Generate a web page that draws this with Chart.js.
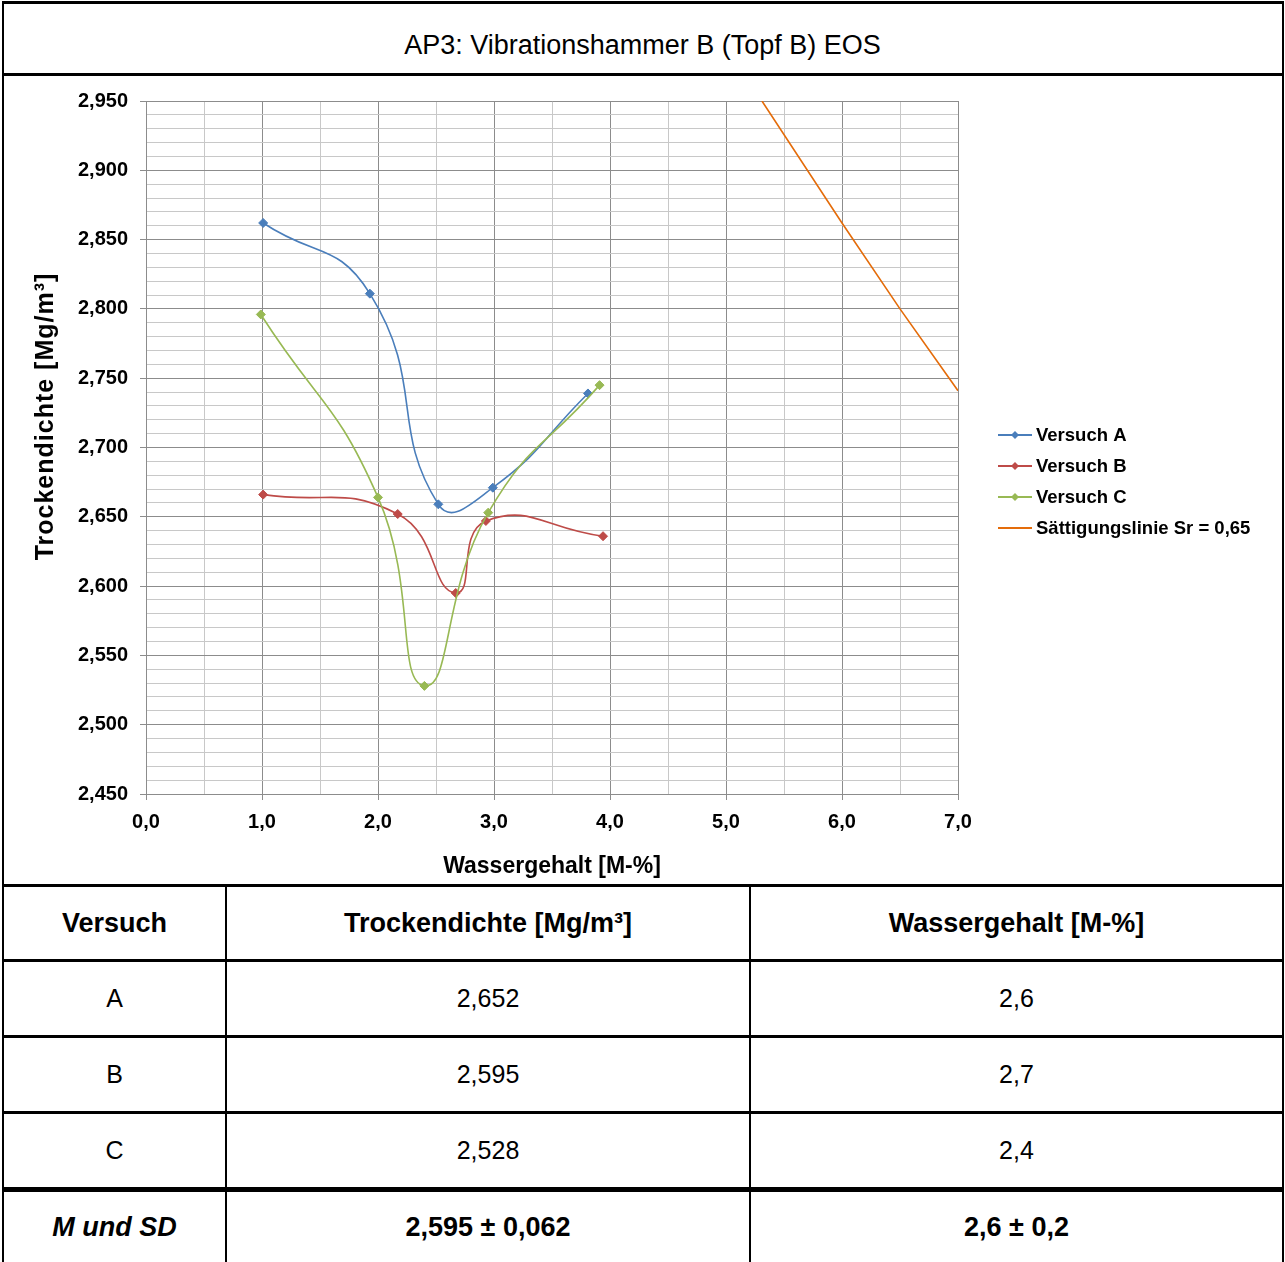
<!DOCTYPE html>
<html>
<head>
<meta charset="utf-8">
<script src="https://cdn.jsdelivr.net/npm/chart.js@4.4.1/dist/chart.umd.min.js"></script>
<style>
  body { margin: 0; background: #fff; font-family: "Liberation Sans", Arial, sans-serif; color: #000; }
  #page { position: relative; width: 1285px; height: 1262px; overflow: hidden; }
  .hl, .vl { position: absolute; background: #000; }
  .cell { position: absolute; display: flex; align-items: center; justify-content: center; font-size: 25px; }
  .b { font-weight: bold; font-size: 27px; }
  .bi { font-weight: bold; font-style: italic; font-size: 27px; }
  #title { position: absolute; left: 0; top: 10px; width: 1285px; height: 70px; display: flex; align-items: center; justify-content: center; font-size: 27px; }
  #chart { position: absolute; left: 0; top: 77px; }
</style>
</head>
<body>
<div id="page">
  <div id="title">AP3: Vibrationshammer B (Topf B) EOS</div>
  <canvas id="chart" width="1285" height="806"></canvas>
  <div id="table"></div>
  <!-- frame lines -->
  <div class="hl" style="left:2px;top:1px;width:1282px;height:3px"></div>
  <div class="hl" style="left:2px;top:73px;width:1282px;height:3px"></div>
  <div class="hl" style="left:2px;top:884px;width:1282px;height:3px"></div>
  <div class="hl" style="left:2px;top:959px;width:1282px;height:3px"></div>
  <div class="hl" style="left:2px;top:1035px;width:1282px;height:3px"></div>
  <div class="hl" style="left:2px;top:1111px;width:1282px;height:3px"></div>
  <div class="hl" style="left:2px;top:1187px;width:1282px;height:5px"></div>
  <div class="vl" style="left:2px;top:1px;width:2px;height:1262px"></div>
  <div class="vl" style="left:1282px;top:1px;width:2px;height:1262px"></div>
  <div class="vl" style="left:225px;top:884px;width:2px;height:380px"></div>
  <div class="vl" style="left:749px;top:884px;width:2px;height:380px"></div>
</div>
<script>
// Versuch A
const aX = [1.01, 1.93, 2.52, 2.99, 3.81];
const aY = [2.862, 2.811, 2.659, 2.671, 2.739];
// Versuch B
const bX = [1.01, 2.17, 2.67, 2.93, 3.94];
const bY = [2.666, 2.652, 2.595, 2.647, 2.636];
// Versuch C
const cX = [0.99, 2.00, 2.40, 2.95, 3.91];
const cY = [2.796, 2.664, 2.528, 2.653, 2.745];
// Sättigungslinie Sr = 0,65
const sX = [5.31, 6.0, 6.5, 7.0];
const sY = [2.950, 2.862, 2.800, 2.741];

const seriesNames = ["Versuch A", "Versuch B", "Versuch C", "Sättigungslinie Sr = 0,65"];
const seriesColors = ["#4a7ebb", "#be4b48", "#98b954", "#e46c0a"];

const xTitle = "Wassergehalt [M-%]";
const yTitle = "Trockendichte [Mg/m³]";

// table below the chart
const tableHead = ["Versuch", "Trockendichte [Mg/m³]", "Wassergehalt [M-%]"];
const tableRows = [
  ["A", "2,652", "2,6"],
  ["B", "2,595", "2,7"],
  ["C", "2,528", "2,4"],
];
const tableSummary = ["M und SD", "2,595 ± 0,062", "2,6 ± 0,2"];

const X_MIN = 0, X_MAX = 7, Y_MIN = 2.45, Y_MAX = 2.95;
const DARK = "#8c8c8c", LIGHT = "#c8c8c8";
const FONT = '"Liberation Sans", Arial, sans-serif';

// ---- table ----
const colLeft = [4, 227, 751];
const colRight = [225, 749, 1282];
const rowTop = [887, 962, 1038, 1114, 1192];
const rowBottom = [959, 1035, 1111, 1187, 1262];
const tbl = document.getElementById("table");
function cell(text, r, c, cls) {
  const d = document.createElement("div");
  d.className = "cell " + (cls || "");
  d.style.left = colLeft[c] + "px";
  d.style.width = (colRight[c] - colLeft[c]) + "px";
  d.style.top = rowTop[r] + "px";
  d.style.height = (rowBottom[r] - rowTop[r]) + "px";
  d.textContent = text;
  tbl.appendChild(d);
}
tableHead.forEach((t, c) => cell(t, 0, c, "b"));
tableRows.forEach((row, r) => row.forEach((t, c) => cell(t, r + 1, c)));
tableSummary.forEach((t, c) => cell(t, 4, c, c === 0 ? "bi" : "b"));

// ---- chart ----
const toPts = (xs, ys) => xs.map((x, i) => ({ x, y: ys[i] }));
const fmt = (v, d) => v.toFixed(d).replace(".", ",");
const isMajorY = (v) => Math.round(v * 100) % 5 === 0;
const isMajorX = (v) => Math.abs(v - Math.round(v)) < 1e-6;

function series(i, xs, ys, markers) {
  return {
    label: seriesNames[i],
    data: toPts(xs, ys),
    borderColor: seriesColors[i],
    backgroundColor: seriesColors[i],
    borderWidth: 1.6,
    showLine: true,
    tension: markers ? 0.5 : 0,
    pointStyle: "rectRot",
    pointRadius: markers ? 4.5 : 0,
    pointBorderWidth: 1,
    order: 4 - i,
  };
}

// legend on the right, drawn from the dataset list
const sideLegend = {
  id: "sideLegend",
  afterDraw(chart) {
    const ctx = chart.ctx;
    const x0 = chart.chartArea.right + 40;
    ctx.save();
    chart.data.datasets.forEach((ds, i) => {
      const y = 358 + i * 31;
      ctx.strokeStyle = ds.borderColor;
      ctx.lineWidth = 2;
      ctx.beginPath();
      ctx.moveTo(x0, y);
      ctx.lineTo(x0 + 34, y);
      ctx.stroke();
      if (ds.pointRadius > 0) {
        ctx.fillStyle = ds.borderColor;
        ctx.beginPath();
        ctx.moveTo(x0 + 17, y - 4);
        ctx.lineTo(x0 + 21, y);
        ctx.lineTo(x0 + 17, y + 4);
        ctx.lineTo(x0 + 13, y);
        ctx.closePath();
        ctx.fill();
      }
      ctx.fillStyle = "#000";
      ctx.font = "bold 18.5px " + FONT;
      ctx.textBaseline = "middle";
      ctx.fillText(ds.label, x0 + 38, y + 1);
    });
    ctx.restore();
  },
};

// rotated y-axis title, placed a bit above the plot centre like the original
const yAxisTitle = {
  id: "yAxisTitle",
  afterDraw(chart) {
    const ctx = chart.ctx;
    const ca = chart.chartArea;
    ctx.save();
    ctx.translate(46, (ca.top + ca.bottom) / 2 - 31);
    ctx.rotate(-Math.PI / 2);
    ctx.font = "bold 25px " + FONT;
    if ("letterSpacing" in ctx) ctx.letterSpacing = "1px";
    ctx.fillStyle = "#000";
    ctx.textAlign = "center";
    ctx.textBaseline = "middle";
    ctx.fillText(yTitle, 0, 0);
    ctx.restore();
  },
};

new Chart(document.getElementById("chart"), {
  type: "scatter",
  data: {
    datasets: [
      series(0, aX, aY, true),
      series(1, bX, bY, true),
      series(2, cX, cY, true),
      series(3, sX, sY, false),
    ],
  },
  plugins: [sideLegend, yAxisTitle],
  options: {
    responsive: false,
    animation: false,
    devicePixelRatio: 1,
    layout: { padding: { left: 30, right: 327, top: 23, bottom: 0 } },
    plugins: { legend: { display: false }, tooltip: { enabled: false } },
    scales: {
      x: {
        type: "linear",
        min: X_MIN,
        max: X_MAX,
        afterFit: (s) => { s.height = 89; },
        border: { color: DARK, width: 1 },
        grid: {
          color: (c) => (isMajorX(c.tick.value) ? DARK : LIGHT),
          tickColor: (c) => (isMajorX(c.tick.value) ? DARK : "rgba(0,0,0,0)"),
          tickLength: 6,
          lineWidth: 1,
        },
        ticks: {
          stepSize: 0.5,
          autoSkip: false,
          maxRotation: 0,
          padding: 10,
          color: "#000",
          font: { family: FONT, size: 20, weight: "bold" },
          callback: (v) => (isMajorX(v) ? fmt(v, 1) : ""),
        },
        title: {
          display: true,
          text: xTitle,
          color: "#000",
          padding: { top: 4, bottom: 3 },
          font: { family: FONT, size: 23, weight: "bold" },
        },
      },
      y: {
        type: "linear",
        min: Y_MIN,
        max: Y_MAX,
        afterFit: (s) => { s.width = 116; },
        border: { color: DARK, width: 1 },
        grid: {
          color: (c) => (isMajorY(c.tick.value) ? DARK : LIGHT),
          tickColor: (c) => (isMajorY(c.tick.value) ? DARK : "rgba(0,0,0,0)"),
          tickLength: 6,
          lineWidth: 1,
        },
        ticks: {
          stepSize: 0.01,
          maxTicksLimit: 100,
          autoSkip: false,
          padding: 12,
          color: "#000",
          font: { family: FONT, size: 20, weight: "bold" },
          callback: (v) => (isMajorY(v) ? fmt(v, 3) : ""),
        },
      },
    },
  },
});
</script>
</body>
</html>
